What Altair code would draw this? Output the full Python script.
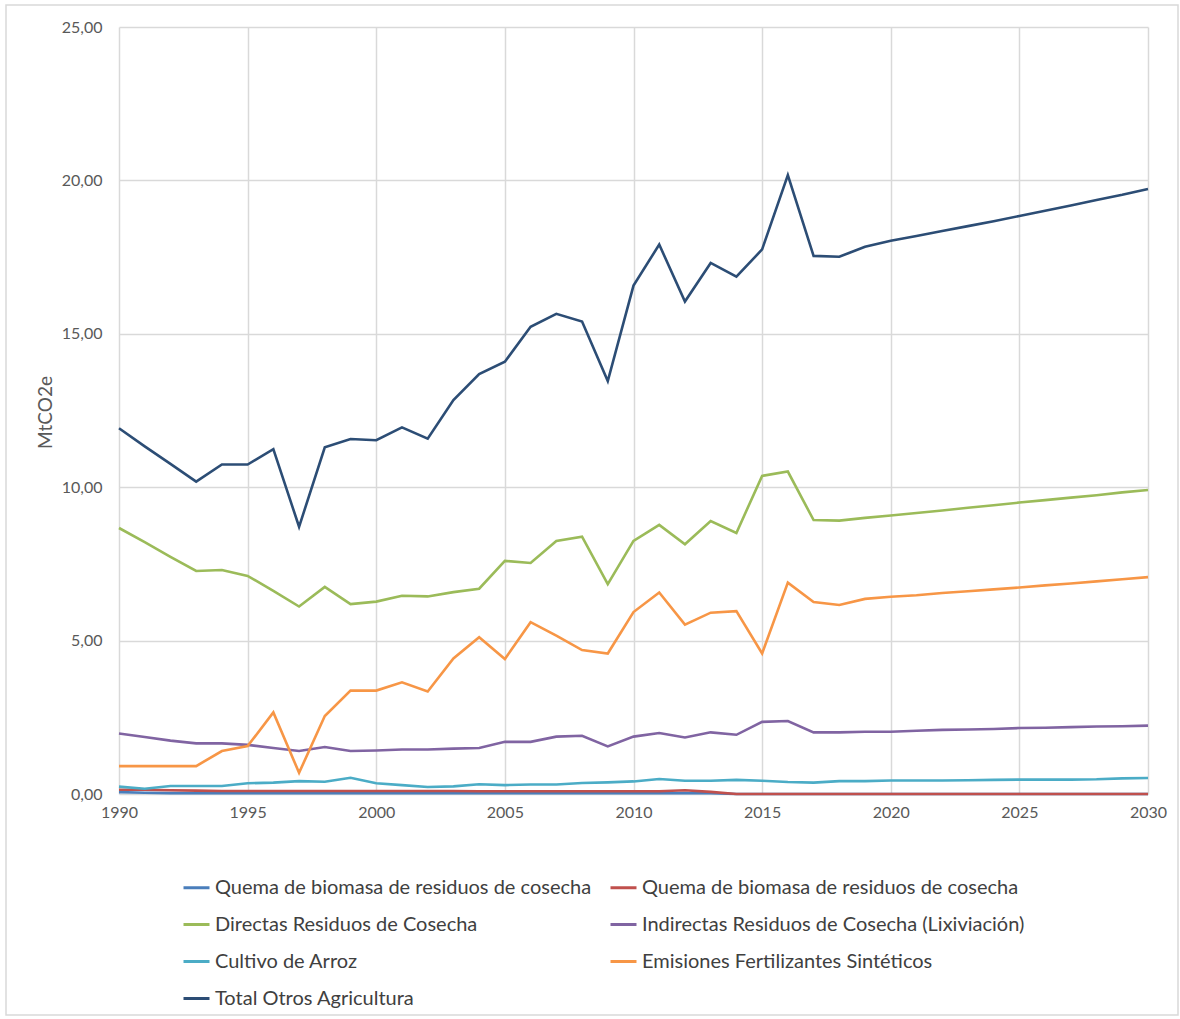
import altair as alt
import pandas as pd

# Years covered by the inventory series and the projection
years = list(range(1990, 2031))

series_names = [
    "Quema de biomasa de residuos de cosecha",
    "Quema de biomasa de residuos de cosecha",
    "Directas Residuos de Cosecha",
    "Indirectas Residuos de Cosecha (Lixiviación)",
    "Cultivo de Arroz",
    "Emisiones Fertilizantes Sintéticos",
    "Total Otros Agricultura",
]
series_colors = ["#4A7EBB", "#C0504D", "#9BBB59", "#8064A2", "#4BACC6", "#F79646", "#2C4D75"]

quema_a = [0.06, 0.04] + [0.03] * 22 + [0.0] * 17
quema_b = [0.14, 0.14, 0.12, 0.11, 0.10, 0.10, 0.10, 0.10, 0.10, 0.10, 0.10, 0.10, 0.10, 0.10,
           0.09, 0.09, 0.09, 0.09, 0.09, 0.09, 0.09, 0.09, 0.12, 0.07] + [0.0] * 17
directas = [8.67, 8.21, 7.73, 7.27, 7.30, 7.11, 6.62, 6.11, 6.75, 6.19, 6.27, 6.46, 6.44, 6.58,
            6.69, 7.60, 7.53, 8.25, 8.39, 6.84, 8.25, 8.77, 8.14, 8.90, 8.51, 10.37, 10.51, 8.93,
            8.91, 9.00, 9.08, 9.16, 9.24, 9.33, 9.41, 9.50, 9.58, 9.66, 9.74, 9.83, 9.91]
indirectas = [1.97, 1.86, 1.74, 1.65, 1.65, 1.60, 1.50, 1.40, 1.53, 1.40, 1.42, 1.45, 1.45, 1.48,
              1.50, 1.70, 1.70, 1.87, 1.90, 1.55, 1.87, 1.99, 1.84, 2.01, 1.93, 2.35, 2.38, 2.01,
              2.01, 2.03, 2.03, 2.06, 2.09, 2.10, 2.12, 2.15, 2.16, 2.18, 2.20, 2.21, 2.23]
arroz = [0.24, 0.17, 0.26, 0.26, 0.26, 0.35, 0.37, 0.42, 0.40, 0.53, 0.35, 0.29, 0.23, 0.25,
         0.32, 0.29, 0.31, 0.31, 0.36, 0.38, 0.41, 0.49, 0.43, 0.43, 0.46, 0.43, 0.39, 0.37,
         0.42, 0.42, 0.44, 0.44, 0.44, 0.45, 0.46, 0.47, 0.47, 0.47, 0.48, 0.51, 0.52]
fertilizantes = [0.91, 0.91, 0.91, 0.91, 1.40, 1.56, 2.66, 0.69, 2.54, 3.37, 3.37, 3.64, 3.34,
                 4.42, 5.11, 4.40, 5.60, 5.16, 4.69, 4.58, 5.93, 6.57, 5.52, 5.91, 5.96, 4.58,
                 6.89, 6.26, 6.16, 6.36, 6.43, 6.48, 6.55, 6.61, 6.67, 6.73, 6.80, 6.86, 6.93,
                 7.00, 7.07]
total = [11.92, 11.33, 10.76, 10.18, 10.74, 10.74, 11.24, 8.71, 11.30, 11.57, 11.53, 11.95,
         11.58, 12.84, 13.69, 14.09, 15.23, 15.65, 15.40, 13.46, 16.57, 17.91, 16.05, 17.31,
         16.86, 17.75, 20.17, 17.54, 17.51, 17.84, 18.03, 18.19, 18.35, 18.51, 18.67, 18.84,
         19.01, 19.18, 19.36, 19.53, 19.72]

series_values = [quema_a, quema_b, directas, indirectas, arroz, fertilizantes, total]

rows = []
for idx, vals in enumerate(series_values):
    for yr, v in zip(years, vals):
        rows.append({"serie": idx, "anio": yr, "valor": v})
df = pd.DataFrame(rows)

FONT = "Lato"
GRID = "#d9d9d9"
TEXT = "#595959"

names_js = "[" + ",".join("'" + n + "'" for n in series_names) + "]"

lines = alt.Chart(df).mark_line(strokeWidth=2.6, strokeJoin="miter", strokeCap="butt").encode(
    x=alt.X(
        "anio:Q",
        scale=alt.Scale(domain=[1990, 2030], nice=False, zero=False),
        axis=alt.Axis(
            values=list(range(1990, 2031, 5)), format="d", title=None,
            grid=True, gridColor=GRID, gridWidth=1.5, domain=False, ticks=False,
            labelFlush=False, labelPadding=10, labelFontSize=16, labelColor=TEXT,
            labelFont=FONT,
        ),
    ),
    y=alt.Y(
        "valor:Q",
        scale=alt.Scale(domain=[0, 25], nice=False),
        axis=alt.Axis(
            values=[0, 5, 10, 15, 20, 25],
            labelExpr="replace(format(datum.value, '.2f'), '.', ',')",
            title="MtCO2e", titleFont=FONT, titleFontSize=19, titleFontWeight="normal",
            titleColor=TEXT, titleAngle=270, titleX=-74, titleY=385,
            titleAlign="center", titleBaseline="middle",
            grid=True, gridColor=GRID, gridWidth=1.5, domain=False, ticks=False,
            labelPadding=17, labelFontSize=16, labelColor=TEXT, labelFont=FONT,
        ),
    ),
    color=alt.Color(
        "serie:N",
        scale=alt.Scale(domain=list(range(len(series_names))), range=series_colors),
        legend=alt.Legend(
            title=None, orient="none", legendX=63, legendY=846, columns=2,
            direction="horizontal",
            symbolType="stroke", symbolSize=676, symbolStrokeWidth=3,
            labelExpr=names_js + "[datum.value]",
            labelFont=FONT, labelFontSize=20, labelColor="#404040", labelLimit=600,
            labelOffset=4, rowPadding=12, columnPadding=12, padding=0,
        ),
    ),
    order=alt.Order("serie:Q"),
)

# Light frame around the whole chart
frame = alt.Chart(alt.Data(values=[{}])).mark_rect(
    fill=None, stroke=GRID, strokeWidth=1.5
).encode(
    x=alt.value(-113), x2=alt.value(1059), y=alt.value(-22), y2=alt.value(988)
)

chart = alt.layer(frame, lines).properties(
    width=1029, height=767,
    autosize=alt.AutoSizeParams(type="none"),
    padding={"left": 119, "top": 27, "right": 32, "bottom": 225},
    background="white",
).configure_view(stroke=None)

chart.save("out.html", embed_options={"renderer": "svg", "actions": False})
